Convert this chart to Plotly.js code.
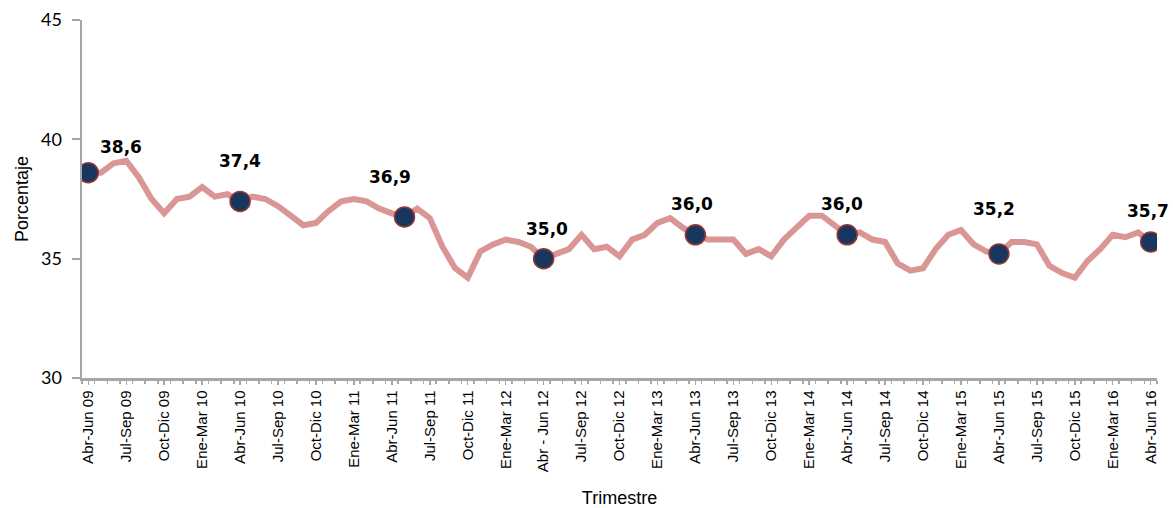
<!DOCTYPE html>
<html>
<head>
<meta charset="utf-8">
<script src="https://cdn.plot.ly/plotly-3.0.1.min.js"></script>
<style>html,body{margin:0;padding:0;background:#fff;}#chart{width:1173px;height:508px;}</style>
</head>
<body>
<div id="chart"></div>
<script>
// Monthly rolling quarters, Abr-Jun 09 ... Abr-Jun 16 (85 periods)
var monthAbbr = ['Ene','Feb','Mar','Abr','May','Jun','Jul','Ago','Sep','Oct','Nov','Dic'];
var values = [
  38.6, 38.6, 39.0, 39.1, 38.4, 37.5, 36.9, 37.5, 37.6, 38.0, 37.6, 37.7,
  37.4, 37.6, 37.5, 37.2, 36.8, 36.4, 36.5, 37.0, 37.4, 37.5, 37.4, 37.1,
  36.9, 36.75, 37.1, 36.7, 35.5, 34.6, 34.2, 35.3, 35.6, 35.8, 35.7, 35.5,
  35.0, 35.2, 35.4, 36.0, 35.4, 35.5, 35.1, 35.8, 36.0, 36.5, 36.7, 36.3,
  36.0, 35.8, 35.8, 35.8, 35.2, 35.4, 35.1, 35.8, 36.3, 36.8, 36.8, 36.4,
  36.0, 36.1, 35.8, 35.7, 34.8, 34.5, 34.6, 35.4, 36.0, 36.2, 35.6, 35.3,
  35.2, 35.7, 35.7, 35.6, 34.7, 34.4, 34.2, 34.9, 35.4, 36.0, 35.9, 36.1,
  35.7
];
var tickLabels = [
  'Abr-Jun 09','Jul-Sep 09','Oct-Dic 09','Ene-Mar 10','Abr-Jun 10','Jul-Sep 10','Oct-Dic 10',
  'Ene-Mar 11','Abr-Jun 11','Jul-Sep 11','Oct-Dic 11','Ene-Mar 12','Abr - Jun 12','Jul-Sep 12',
  'Oct-Dic 12','Ene-Mar 13','Abr-Jun 13','Jul-Sep 13','Oct-Dic 13','Ene-Mar 14','Abr-Jun 14',
  'Jul-Sep 14','Oct-Dic 14','Ene-Mar 15','Abr-Jun 15','Jul-Sep 15','Oct-Dic 15','Ene-Mar 16','Abr-Jun 16'
];
// Points highlighted with a marker, and points carrying a value label (indices into values)
var markedIdx = [0, 12, 25, 36, 48, 60, 72, 84];
var labelIdx  = [0, 12, 24, 36, 48, 60, 72, 84];

// build category names (rolling 3-month windows starting Abr 09)
var categories = values.map(function(v, i){
  var m0 = (3 + i) % 12, m2 = (3 + i + 2) % 12;
  var yr = 9 + Math.floor((3 + i + 2) / 12);
  return monthAbbr[m0] + '-' + monthAbbr[m2] + ' ' + (yr < 10 ? '0' + yr : '' + yr);
});
var xs = values.map(function(v, i){ return i; });
var tickVals = tickLabels.map(function(t, k){ return k * 3; });

var fmt = function(v){ return v.toFixed(1).replace('.', ','); };

var lineTrace = {
  x: xs, y: values, text: categories, type: 'scatter', mode: 'lines',
  line: {color: '#d99694', width: 6}, hoverinfo: 'text+y', showlegend: false
};
var markTrace = {
  x: markedIdx, y: markedIdx.map(function(i){ return values[i]; }),
  type: 'scatter', mode: 'markers',
  marker: {color: '#17375e', size: 20, line: {color: '#953735', width: 1.5}},
  showlegend: false, hoverinfo: 'skip'
};

// label offsets (pixels) for each labelled point
var lblShift = [[33, 26], [0, 40], [-2, 36], [3, 30], [-3, 31], [-5, 31], [-5, 45], [-3, 31]];
var annotations = labelIdx.map(function(i, k){
  return {
    x: i, y: values[i], xref: 'x', yref: 'y', text: '<b>' + fmt(values[i]) + '</b>',
    showarrow: false, xshift: lblShift[k][0], yshift: lblShift[k][1],
    font: {family: 'DejaVu Sans', size: 17, color: '#000'}
  };
});

var layout = {
  width: 1173, height: 508,
  margin: {l: 82, r: 16, t: 20, b: 130},
  paper_bgcolor: '#fff', plot_bgcolor: '#fff',
  showlegend: false,
  xaxis: {
    range: [-0.5, values.length - 0.5],
    tickvals: tickVals, ticktext: tickLabels, tickangle: -90,
    showgrid: false, zeroline: false,
    showline: true, linecolor: '#a6a6a6', linewidth: 2.5,
    ticks: 'outside', ticklen: 4, tickcolor: '#a6a6a6', tickwidth: 1.5,
    minor: {ticks: 'outside', dtick: 1, tick0: 0.5, ticklen: 3, tickcolor: '#a6a6a6', tickwidth: 1.5},
    tickfont: {family: 'Liberation Sans, Arial', size: 15, color: '#000'},
    title: {text: 'Trimestre', font: {family: 'Liberation Sans, Arial', size: 18, color: '#000'}, standoff: 22}
  },
  yaxis: {
    range: [30, 45], tickvals: [30, 35, 40, 45],
    showgrid: false, zeroline: false,
    showline: true, linecolor: '#a6a6a6', linewidth: 2.5,
    ticks: 'outside', ticklen: 8, tickcolor: '#a6a6a6', tickwidth: 2,
    ticklabelstandoff: 6,
    tickfont: {family: 'Lato, Open Sans', size: 18, color: '#000'},
    title: {text: 'Porcentaje', font: {family: 'Liberation Sans, Arial', size: 18, color: '#000'}, standoff: 8}
  },
  annotations: annotations
};

Plotly.newPlot('chart', [lineTrace, markTrace], layout, {displayModeBar: false, staticPlot: true});
</script>
</body>
</html>
